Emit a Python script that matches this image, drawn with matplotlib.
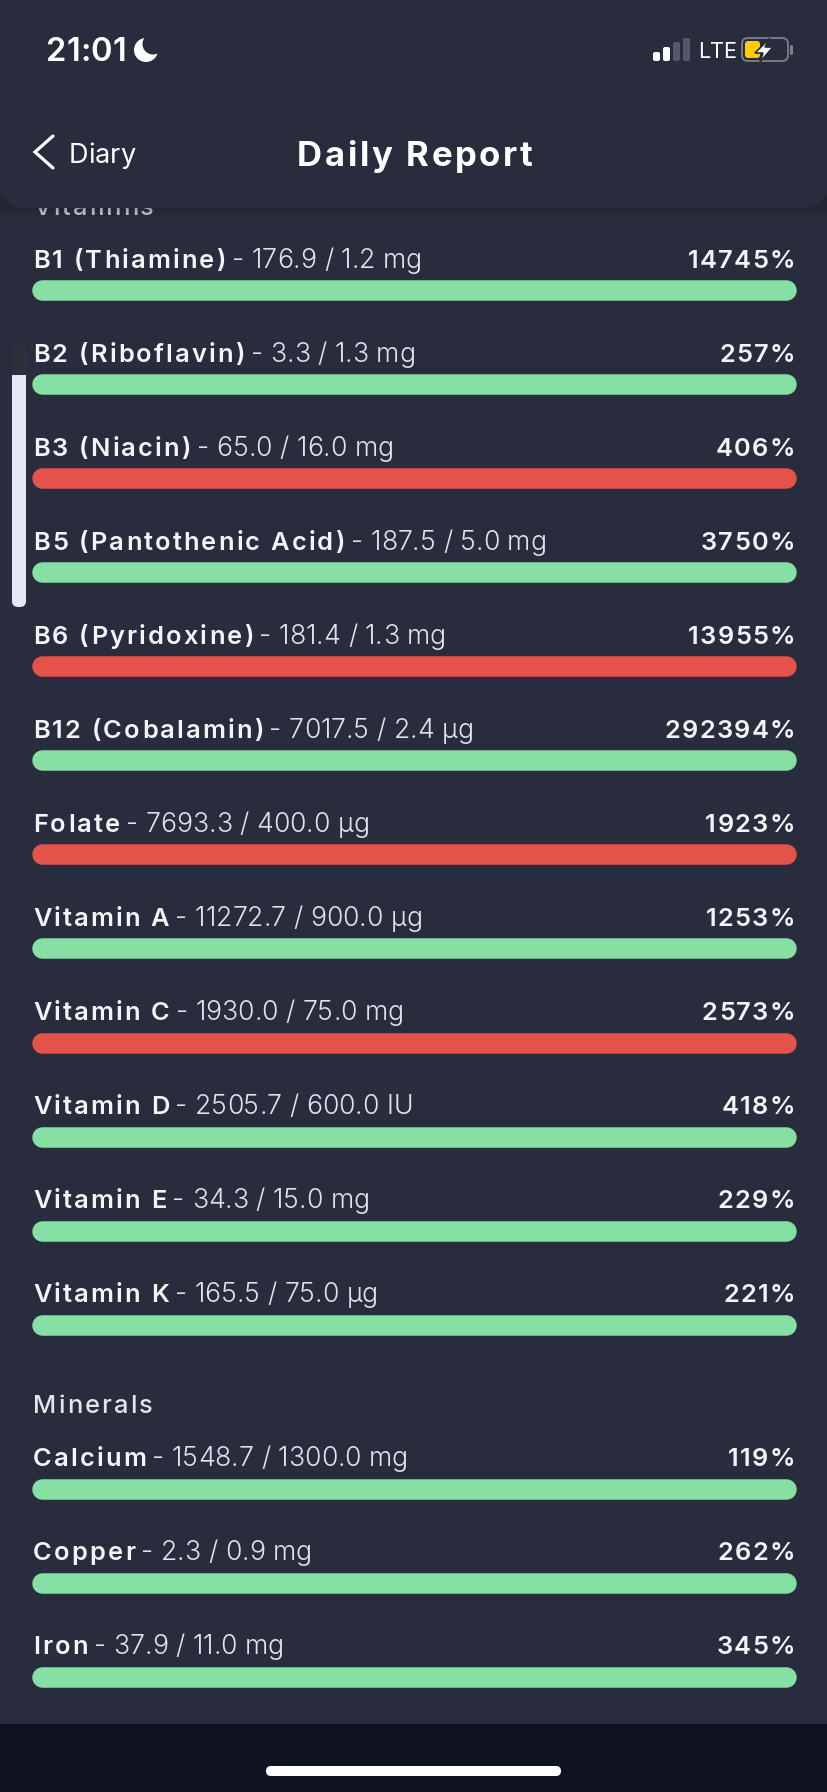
import matplotlib
matplotlib.use("Agg")
import matplotlib.pyplot as plt
from matplotlib.font_manager import findfont, get_font, FontProperties
from matplotlib.ft2font import LoadFlags
from matplotlib.patches import FancyBboxPatch, Rectangle, Circle, Polygon
from matplotlib.text import Text
from matplotlib.transforms import Bbox, IdentityTransform

GREEN = "#86DFA3"
RED = "#E3534A"
BG = "#282C3C"
BOTTOM = "#10121F"
FONT = ["Inter", "DejaVu Sans"]

vitamin_names = ["B1 (Thiamine)", "B2 (Riboflavin)", "B3 (Niacin)", "B5 (Pantothenic Acid)",
                 "B6 (Pyridoxine)", "B12 (Cobalamin)", "Folate", "Vitamin A", "Vitamin C",
                 "Vitamin D", "Vitamin E", "Vitamin K"]
vitamin_amounts = ["176.9 / 1.2 mg", "3.3 / 1.3 mg", "65.0 / 16.0 mg", "187.5 / 5.0 mg",
                   "181.4 / 1.3 mg", "7017.5 / 2.4 µg", "7693.3 / 400.0 µg", "11272.7 / 900.0 µg",
                   "1930.0 / 75.0 mg", "2505.7 / 600.0 IU", "34.3 / 15.0 mg", "165.5 / 75.0 µg"]
vitamin_pct = [14745, 257, 406, 3750, 13955, 292394, 1923, 1253, 2573, 418, 229, 221]
vitamin_flag = ["g", "g", "r", "g", "r", "g", "r", "g", "r", "g", "g", "g"]

mineral_names = ["Calcium", "Copper", "Iron"]
mineral_amounts = ["1548.7 / 1300.0 mg", "2.3 / 0.9 mg", "37.9 / 11.0 mg"]
mineral_pct = [119, 262, 345]
mineral_flag = ["g", "g", "g"]


class TrackedText(Text):
    """One real text artist, drawn with extra letter spacing (in pixels)."""

    def __init__(self, *args, tracking=0.0, **kwargs):
        super().__init__(*args, **kwargs)
        self._tracking = tracking

    def _offsets(self):
        prop = self.get_fontproperties()
        font = get_font(findfont(prop))
        font.set_size(prop.get_size_in_points(), self.get_figure().dpi)
        pos, x = [], 0.0
        for ch in self.get_text():
            pos.append(x)
            g = font.load_char(ord(ch), flags=LoadFlags.NO_HINTING)
            x += g.linearHoriAdvance / 65536 + self._tracking
        return pos, x - self._tracking

    def _origin(self, total):
        px, py = self.get_transform().transform(self.get_position())
        if self.get_ha() == "right":
            px -= total
        return px, py

    def draw(self, renderer):
        pos, total = self._offsets()
        px, py = self._origin(total)
        for ch, off in zip(self.get_text(), pos):
            if ch == " ":
                continue
            t = Text(px + off, py, ch, color=self.get_color(), va="baseline", ha="left",
                     fontproperties=self.get_fontproperties(), transform=IdentityTransform())
            t.set_figure(self.get_figure())
            t.draw(renderer)

    def get_window_extent(self, renderer=None, dpi=None):
        _, total = self._offsets()
        px, py = self._origin(total)
        return Bbox.from_extents(px, py, px + total, py + self.get_fontproperties().get_size_in_points())


def tracked(ax, x, y, s, tracking, size, weight, color, ha="left", zorder=3):
    t = TrackedText(x, y, s, tracking=tracking, color=color, ha=ha, va="baseline",
                    fontproperties=FontProperties(family=FONT, size=size, weight=weight),
                    zorder=zorder)
    ax.add_artist(t)
    t.set_transform(ax.transData)
    t.set_clip_on(False)
    return t


W, H = 828, 1792
fig = plt.figure(figsize=(W / 100, H / 100), dpi=100, facecolor=BG)

bg = fig.add_axes([0, 0, 1, 1], zorder=0)
bg.set_xlim(0, W); bg.set_ylim(H, 0); bg.axis("off")
bg.add_patch(Rectangle((0, 1724), W, H - 1724, fc=BOTTOM, ec="none"))

# bar axes: x is percent filled (capped at 100), y is row index
ROW0, ROWH, LEFT, RIGHT = 290.5, 94.0, 42.5, 786.0
bars = fig.add_axes([LEFT / W, 0, (RIGHT - LEFT) / W, 1], zorder=1)
bars.set_xlim(0, 100)
bars.set_ylim((H - ROW0) / ROWH, -ROW0 / ROWH)
bars.axis("off")
bars.patch.set_alpha(0)

MINERAL_GAP = 0.745
rows = []
for i, rec in enumerate(zip(vitamin_names, vitamin_amounts, vitamin_pct, vitamin_flag)):
    rows.append((i, *rec))
for i, rec in enumerate(zip(mineral_names, mineral_amounts, mineral_pct, mineral_flag)):
    rows.append((len(vitamin_names) + MINERAL_GAP + i, *rec))

for y, _, _, pct, flag in rows:
    bars.plot([0, min(pct, 100)], [y, y], color=GREEN if flag == "g" else RED,
              lw=20.5 * 0.72, solid_capstyle="round", clip_on=False)

top = fig.add_axes([0, 0, 1, 1], zorder=2)
top.set_xlim(0, W); top.set_ylim(H, 0); top.axis("off")
top.patch.set_alpha(0)

LABEL = 18.3
DETAIL = 19.2
for y, name, amount, pct, _ in rows:
    yb = ROW0 + ROWH * y - 22.5
    t = tracked(top, 33, yb, name, 2.2, LABEL, 600, "#F4F4F8")
    right = top.transData.inverted().transform(t.get_window_extent())[1, 0]
    tracked(top, right + 6, yb, "- " + amount, 0.0, DETAIL, 300, "#E2E2EA")
    tracked(top, 795, yb, f"{pct}%", 1.3, LABEL, 600, "#F4F4F8", ha="right")

tracked(top, 33, 1413, "Minerals", 2.2, LABEL, 500, "#E4E4EA")
tracked(top, 33, 215, "Vitamins", 2.2, LABEL, 500, "#C9C9D0", zorder=1)

# scroll indicator
top.add_patch(FancyBboxPatch((15, 345), 8, 40, boxstyle="round,pad=3,rounding_size=6",
                             fc="#2F2F3A", ec="none"))
top.add_patch(Rectangle((12, 375), 14, 222, fc="#E6E6F6", ec="none"))
top.add_patch(FancyBboxPatch((15, 590), 8, 14, boxstyle="round,pad=3,rounding_size=6",
                             fc="#E6E6F6", ec="none"))

# header with soft shadow
for grow, a in [(12, .04), (8, .05), (4, .07), (2, .08)]:
    top.add_patch(FancyBboxPatch((-40, -60), W + 80, 268 + grow,
                                 boxstyle="round,pad=0,rounding_size=34",
                                 fc="#14151F", ec="none", alpha=a, zorder=4))
top.add_patch(FancyBboxPatch((-2, -60), W + 4, 268, boxstyle="round,pad=0,rounding_size=30",
                             fc=BG, ec="none", zorder=4))

tracked(top, 46, 61, "21:01", 0.0, 23.5, 600, "white", zorder=5)
tracked(top, 297, 166, "Daily Report", 2.6, 25, 700, "white", zorder=5)
tracked(top, 69, 163, "Diary", 0.0, 19.5, 400, "white", zorder=5)
top.plot([53, 35, 53], [136, 152, 168], color="white", lw=2.3, solid_capstyle="round",
         solid_joinstyle="miter", zorder=5)

# moon
top.add_patch(Circle((146, 50), 12, fc="white", ec="none", zorder=5))
top.add_patch(Circle((153, 44), 10.5, fc=BG, ec="none", zorder=6))

# signal bars
for x, h, c in [(653, 9, "white"), (663, 14, "white"), (673, 19, "#54586A"), (683, 23, "#54586A")]:
    top.add_patch(FancyBboxPatch((x + 1, 61 - h + 1), 5, h - 2, boxstyle="round,pad=1,rounding_size=2",
                                 fc=c, ec="none", zorder=5))
tracked(top, 698, 58, "LTE", -0.6, 15.7, 400, "white", zorder=5)

# battery
top.add_patch(FancyBboxPatch((742, 38), 46, 23, boxstyle="round,pad=0,rounding_size=6",
                             fc="none", ec="#7E808D", lw=1.3, zorder=5))
top.add_patch(FancyBboxPatch((745, 41), 15, 17, boxstyle="round,pad=0,rounding_size=3",
                             fc="#FFCC00", ec="none", zorder=5))
top.add_patch(FancyBboxPatch((790, 45), 3, 10, boxstyle="round,pad=0,rounding_size=1.5",
                             fc="#7E808D", ec="none", zorder=5))
top.add_patch(Polygon([(770, 38), (755, 53), (763, 53), (760, 62), (773, 47), (765, 47)],
                      closed=True, fc="white", ec=BG, lw=1.2, zorder=6))

# home indicator
top.add_patch(FancyBboxPatch((266, 1766), 295, 10, boxstyle="round,pad=0,rounding_size=5",
                             fc="white", ec="none", zorder=5))

fig.savefig("out.png", dpi=100, facecolor=BG)
